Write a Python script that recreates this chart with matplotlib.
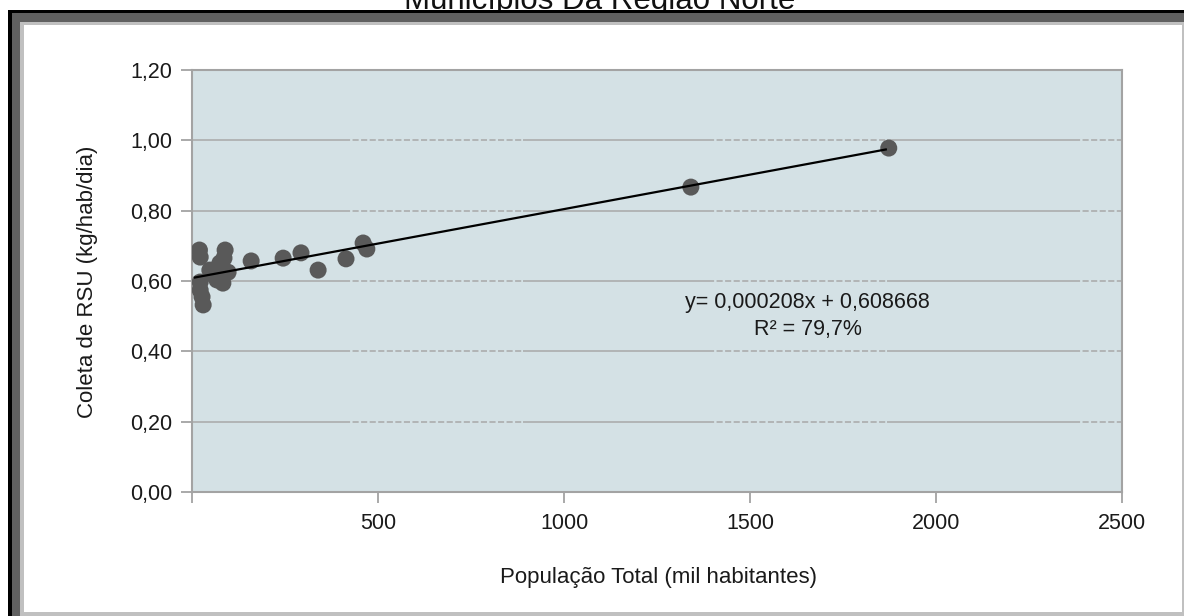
import matplotlib
matplotlib.use("Agg")
import matplotlib.pyplot as plt
from matplotlib.patches import Rectangle

plt.rcParams['font.family'] = ['Liberation Sans', 'DejaVu Sans']

# ---- data ----
populacao = [20, 22, 22, 22, 27, 30, 48, 54, 67, 75, 80, 83, 86, 89, 97,
             159, 245, 293, 339, 414, 460, 470, 1341, 1873]
coleta = [0.688, 0.668, 0.597, 0.574, 0.555, 0.532, 0.631, 0.620, 0.603, 0.651,
          0.617, 0.594, 0.665, 0.688, 0.625,
          0.657, 0.665, 0.680, 0.631, 0.663, 0.708, 0.691, 0.867, 0.978]
# trend line as drawn in the picture (start / end)
tendencia_x = [8, 1865]
tendencia_y = [0.610, 0.974]
eq_text = "y= 0,000208x + 0,608668"
r2_text = "R² = 79,7%"
y_ticks = [0.0, 0.2, 0.4, 0.6, 0.8, 1.0, 1.2]
y_ticklabels = ["0,00", "0,20", "0,40", "0,60", "0,80", "1,00", "1,20"]
x_ticks = [0, 500, 1000, 1500, 2000, 2500]
x_ticklabels = ["", "500", "1000", "1500", "2000", "2500"]
title = "Municípios Da Região Norte"
xlabel = "População Total (mil habitantes)"
ylabel = "Coleta de RSU (kg/hab/dia)"

W, H = 1184, 616
fig = plt.figure(figsize=(W / 100, H / 100), dpi=100)
fig.patch.set_facecolor("white")


def prect(x0, y0, x1, y1, color, z):
    """rectangle from pixel coords (top-left origin)"""
    r = Rectangle((x0 / W, 1 - y1 / H), (x1 - x0) / W, (y1 - y0) / H,
                  transform=fig.transFigure, facecolor=color, edgecolor="none",
                  zorder=z)
    fig.add_artist(r)


# title (mostly cut off at top, as in the reference)
fig.text(600 / W, 1 - 9 / H, title, ha="center", va="baseline",
         fontsize=22.5, color="#111111", zorder=-20)

# frame
prect(8, 10, W, H, "#000000", -10)
prect(12, 13, W, H, "#606060", -9)
prect(20, 22, W, H, "#c0c0c0", -8)
prect(24, 25, W - 2, H - 4, "#ffffff", -7)

# axes
ax = fig.add_axes([192 / W, (H - 492) / H, 930 / W, 422 / H])
ax.set_facecolor("#d4e1e5")
ax.set_xlim(0, 2500)
ax.set_ylim(0, 1.2)

for s in ax.spines.values():
    s.set_color("#a3a3a3")
    s.set_linewidth(1.5)

# gridlines with alternating solid / dashed segments
seg = [0, 0.163, 0.356, 0.555, 0.747, 0.948, 1.0]
tr = ax.get_yaxis_transform()
for yv in y_ticks[1:-1]:
    for i in range(len(seg) - 1):
        ls = "-" if i % 2 == 0 else (0, (4, 1.6))
        ax.plot([seg[i], seg[i + 1]], [yv, yv], transform=tr, color="#a8a8a8",
                lw=1.1, ls=ls, zorder=1, solid_capstyle="butt")

ax.scatter(populacao, coleta, s=150, color="#595959", edgecolors="none", zorder=3)

ax.plot(tendencia_x, tendencia_y, color="#000000", lw=1.6, zorder=4)

ax.text(0.662, 0.448, eq_text, transform=ax.transAxes, ha="center", va="center",
        fontsize=15.5, color="#1a1a1a")
ax.text(0.662, 0.384, r2_text, transform=ax.transAxes, ha="center", va="center",
        fontsize=15.5, color="#1a1a1a")

ax.set_xticks(x_ticks)
ax.set_xticklabels(x_ticklabels)
ax.set_yticks(y_ticks)
ax.set_yticklabels(y_ticklabels)
ax.tick_params(axis="both", direction="out", length=8, width=1.3, color="#a3a3a3",
               labelsize=15.5, labelcolor="#1a1a1a")
ax.tick_params(axis="x", pad=7)
ax.tick_params(axis="y", pad=6)

fig.text(658 / W, 1 - 578 / H, xlabel, ha="center", va="center",
         fontsize=16, color="#1a1a1a")
fig.text(88 / W, 1 - 282 / H, ylabel, ha="center", va="center", rotation=90,
         fontsize=16, color="#1a1a1a")

fig.savefig("out.png", dpi=100)
